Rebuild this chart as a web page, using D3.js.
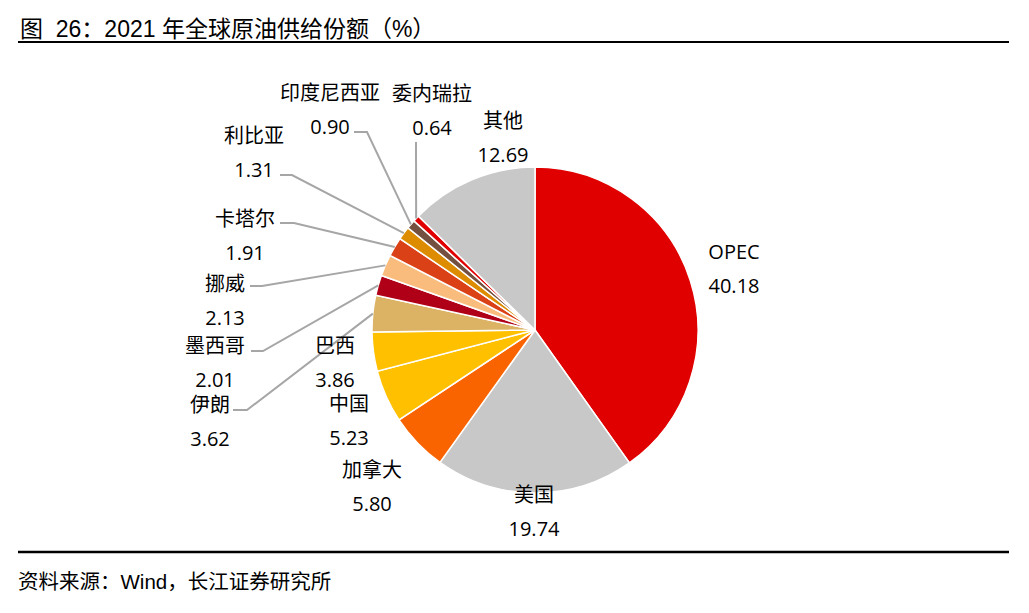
<!DOCTYPE html>
<html>
<head>
<meta charset="utf-8">
<script src="https://cdn.jsdelivr.net/npm/d3@7"></script>
<style>
  body { margin: 0; background: #fff; }
  svg text { fill: #000; }
</style>
</head>
<body>
<div id="chart"></div>
<script>
// data, clockwise from 12 o'clock
var names  = ["OPEC", "美国", "加拿大", "中国", "巴西", "伊朗", "墨西哥", "挪威", "卡塔尔", "利比亚", "印度尼西亚", "委内瑞拉", "其他"];
var shares = [40.18, 19.74, 5.80, 5.23, 3.86, 3.62, 2.01, 2.13, 1.91, 1.31, 0.90, 0.64, 12.69];
var colors = ["#E10000", "#C8C8C8", "#FA6400", "#FFC000", "#FFC000", "#DCB365", "#AF0018", "#F9BC7C", "#DA4117", "#DD8C00", "#73503F", "#E10000", "#C8C8C8"];

// label placement (name line centre) and leader line starts, like the Excel layout
var labelPos = [[734, 251], [534, 494], [372, 469], [349, 403], [335, 345], [210, 404], [215, 345],
                [225, 283], [245, 218], [254, 135], [330, 92], [432, 93], [503, 120]];
var leaderStart = [null, null, null, null, null,
                   [[233, 410], [247, 410]],
                   [[251, 351], [263, 351]],
                   [[250, 286], [262, 286]],
                   [[280, 223], [294, 223]],
                   [[280, 175], [292, 175]],
                   [[354, 132], [367, 132]],
                   [[416, 142]],
                   null];

var width = 1029, height = 613;
var cx = 535, cy = 330, r = 163;

var svg = d3.select("#chart").append("svg")
  .attr("width", width)
  .attr("height", height);

// title + rules
svg.append("text")
  .attr("x", 20).attr("y", 37)
  .style("font-family", "'Liberation Sans', 'Noto Sans CJK SC', sans-serif")
  .style("font-size", "23px")
  .text("图\u00a0\u00a026：2021 年全球原油供给份额（%）");

svg.append("line").attr("x1", 18).attr("x2", 1009).attr("y1", 42).attr("y2", 42)
  .attr("stroke", "#000").attr("stroke-width", 2);
svg.append("line").attr("x1", 18).attr("x2", 1009).attr("y1", 552).attr("y2", 552)
  .attr("stroke", "#000").attr("stroke-width", 2.5);

svg.append("text")
  .attr("x", 18).attr("y", 589)
  .style("font-family", "'Liberation Sans', 'Noto Sans CJK SC', sans-serif")
  .style("font-size", "20.5px")
  .text("资料来源：Wind，长江证券研究所");

var data = names.map(function(n, i) { return {name: n, value: shares[i], color: colors[i], i: i}; });

var pie = d3.pie().sort(null).value(d => d.value);
var arcs = pie(data);

var arc = d3.arc().innerRadius(0).outerRadius(r);
var edge = d3.arc().innerRadius(r).outerRadius(r);

var g = svg.append("g").attr("transform", `translate(${cx},${cy})`);

g.selectAll("path")
  .data(arcs)
  .enter()
  .append("path")
  .attr("d", arc)
  .attr("fill", d => d.data.color)
  .attr("stroke", "#fff")
  .attr("stroke-width", 1.5);

// leader lines: elbow near the label, then straight to the slice edge
var line = d3.line();
svg.append("g")
  .selectAll("path")
  .data(arcs.filter(d => leaderStart[d.data.i]))
  .enter()
  .append("path")
  .attr("d", d => {
    var c = edge.centroid(d);
    return line(leaderStart[d.data.i].concat([[cx + c[0], cy + c[1]]]));
  })
  .attr("fill", "none")
  .attr("stroke", "#A6A6A6")
  .attr("stroke-width", 2);

var labels = svg.append("g")
  .selectAll("g")
  .data(arcs)
  .enter()
  .append("g")
  .attr("transform", d => `translate(${labelPos[d.data.i][0]},${labelPos[d.data.i][1]})`)
  .style("font-family", "'Open Sans', 'Noto Sans CJK SC', sans-serif")
  .style("font-size", "20px")
  .attr("text-anchor", "middle");

labels.append("text")
  .attr("dominant-baseline", "central")
  .text(d => d.data.name);

labels.append("text")
  .attr("y", 34)
  .attr("dominant-baseline", "central")
  .text(d => d.data.value.toFixed(2));
</script>
</body>
</html>
